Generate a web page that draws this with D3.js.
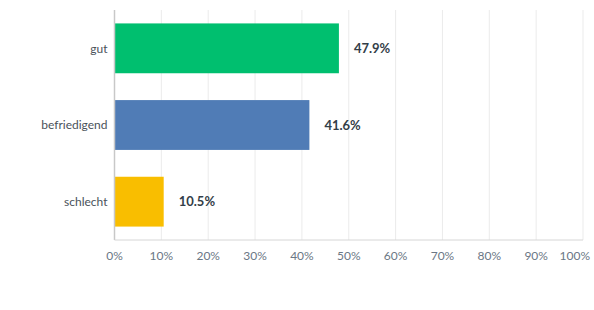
<!DOCTYPE html>
<html>
<head>
<meta charset="utf-8">
<script src="https://cdn.jsdelivr.net/npm/d3@7"></script>
<style>
  body { margin: 0; background: #fff; }
  svg { display: block; font-family: "Lato", "Noto Sans", sans-serif; }
</style>
</head>
<body>
<svg id="chart"></svg>
<script>
(function() {

var categories = ["gut", "befriedigend", "schlecht"];
var values = [47.9, 41.6, 10.5];
var colors = ["#00bf6f", "#507cb6", "#f9be00"];
var ticks = [0, 10, 20, 30, 40, 50, 60, 70, 80, 90, 100];

var W = 594, H = 310,
    margin = {top: 10, right: 11, bottom: 70, left: 114.5},
    width = W - margin.left - margin.right,
    height = H - margin.top - margin.bottom;

var svg = d3.select("#chart").attr("width", W).attr("height", H),
    g = svg.append("g").attr("transform", "translate(" + margin.left + "," + margin.top + ")");

var x = d3.scaleLinear().domain([0, 100]).range([0, width]);
var y = d3.scaleBand().domain(categories).range([0, height])
  .paddingInner(0.35).paddingOuter(0.175);

// gridlines
g.selectAll(".grid")
  .data(ticks.slice(1))
  .enter().append("line")
    .attr("class", "grid")
    .attr("x1", function(d) { return x(d); })
    .attr("x2", function(d) { return x(d); })
    .attr("y1", 0).attr("y2", height)
    .attr("stroke", "#ebebeb").attr("stroke-width", 1);

// bars
g.selectAll(".bar")
  .data(values)
  .enter().append("rect")
    .attr("class", "bar")
    .attr("x", x(0))
    .attr("y", function(d, i) { return y(categories[i]); })
    .attr("width", function(d) { return x(d) - x(0); })
    .attr("height", y.bandwidth())
    .attr("fill", function(d, i) { return colors[i]; });

// value labels
g.selectAll(".val")
  .data(values)
  .enter().append("text")
    .attr("class", "val")
    .attr("x", function(d) { return x(d) + 15; })
    .attr("y", function(d, i) { return y(categories[i]) + y.bandwidth() / 2; })
    .attr("dy", "0.35em")
    .attr("fill", "#333e48")
    .attr("font-size", 13)
    .attr("font-weight", "bold")
    .text(function(d) { return d.toFixed(1) + "%"; });

// axis lines
g.append("line")
  .attr("x1", 0).attr("x2", 0).attr("y1", 0).attr("y2", height)
  .attr("stroke", "#c8c8c8").attr("stroke-width", 1.5);
g.append("line")
  .attr("x1", 0).attr("x2", width).attr("y1", height).attr("y2", height)
  .attr("stroke", "#d6d6d6").attr("stroke-width", 1);

// category labels
g.selectAll(".cat")
  .data(categories)
  .enter().append("text")
    .attr("class", "cat")
    .attr("x", -7)
    .attr("y", function(d) { return y(d) + y.bandwidth() / 2; })
    .attr("dy", "0.35em")
    .attr("text-anchor", "end")
    .attr("fill", "#4a525a")
    .attr("font-size", 12)
    .text(function(d) { return d; });

// tick labels
var tl = g.selectAll(".tick-label")
  .data(ticks)
  .enter().append("text")
    .attr("class", "tick-label")
    .attr("y", height + 20)
    .attr("text-anchor", "middle")
    .attr("fill", "#6b7785")
    .attr("font-size", 12)
    .text(function(d) { return d + "%"; });
tl.attr("x", function(d) {
  var w = this.getComputedTextLength();
  return Math.min(x(d), W - margin.left - 4 - w / 2);
});

})();
</script>
</body>
</html>
